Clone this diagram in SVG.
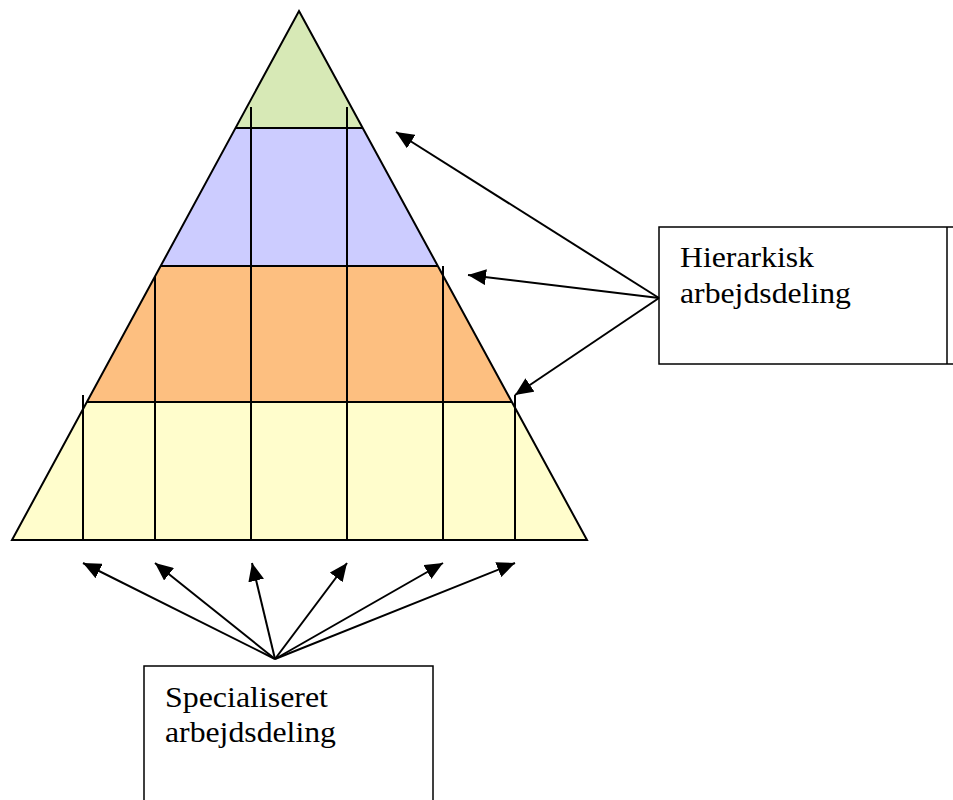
<svg xmlns="http://www.w3.org/2000/svg" width="953" height="800" viewBox="0 0 953 800">
<defs>
<style>
.band{stroke:none}
.edge{fill:none;stroke:#000;stroke-width:2;stroke-linejoin:miter}
.div{stroke:#000;stroke-width:2}
.box{fill:#fff;stroke:#000;stroke-width:1.5}
.lbl{font-family:"Liberation Serif","Times New Roman",serif;font-size:30px;fill:#000}
.conn{stroke:#000;stroke-width:2;fill:none;marker-end:url(#ah)}
</style>
<marker id="ah" markerUnits="userSpaceOnUse" markerWidth="20" markerHeight="16" refX="18" refY="8" orient="auto">
<path d="M0,0 L18,8 L0,16 Z" fill="#000"/>
</marker>
</defs>
<g id="pyramid">
<polygon class="band" fill="#D7E9B6" points="299,11 235.5,128 362.7,128"/>
<polygon class="band" fill="#CCCCFF" points="235.5,128 362.7,128 437.8,266 160.7,266"/>
<polygon class="band" fill="#FDBF80" points="160.7,266 437.8,266 512,402 87,402"/>
<polygon class="band" fill="#FFFDCC" points="87,402 512,402 587,540 12,540"/>
<line class="div" x1="235.5" y1="128" x2="362.7" y2="128"/>
<line class="div" x1="160.7" y1="266" x2="437.8" y2="266"/>
<line class="div" x1="87" y1="402" x2="512" y2="402"/>
<line class="div" x1="251" y1="107" x2="251" y2="540"/>
<line class="div" x1="347" y1="107" x2="347" y2="540"/>
<line class="div" x1="155" y1="276" x2="155" y2="540"/>
<line class="div" x1="443" y1="266" x2="443" y2="540"/>
<line class="div" x1="83" y1="395" x2="83" y2="540"/>
<line class="div" x1="515" y1="395" x2="515" y2="540"/>
<polygon class="edge" points="299,11 587,540 12,540"/>
</g>
<g id="hierarkisk">
<rect class="box" x="659" y="227" width="310" height="137"/>
<line class="div" x1="947" y1="227" x2="947" y2="364" style="stroke-width:1.5"/>
<text class="lbl" x="680" y="267" textLength="134" lengthAdjust="spacingAndGlyphs">Hierarkisk</text>
<text class="lbl" x="680" y="303" textLength="171" lengthAdjust="spacingAndGlyphs">arbejdsdeling</text>
</g>
<g id="specialiseret">
<rect class="box" x="144" y="666" width="289" height="150"/>
<text class="lbl" x="165" y="707" textLength="163" lengthAdjust="spacingAndGlyphs">Specialiseret</text>
<text class="lbl" x="165" y="742" textLength="171" lengthAdjust="spacingAndGlyphs">arbejdsdeling</text>
</g>
<g id="connectors">
<line class="conn" x1="659" y1="298" x2="396" y2="132"/>
<line class="conn" x1="659" y1="298" x2="468" y2="275"/>
<line class="conn" x1="659" y1="298" x2="515" y2="395"/>
<line class="conn" x1="275" y1="659" x2="83" y2="563"/>
<line class="conn" x1="275" y1="659" x2="155" y2="563"/>
<line class="conn" x1="275" y1="659" x2="252" y2="563"/>
<line class="conn" x1="275" y1="659" x2="347" y2="563"/>
<line class="conn" x1="275" y1="659" x2="443" y2="563"/>
<line class="conn" x1="275" y1="659" x2="515" y2="563"/>
</g>
</svg>
